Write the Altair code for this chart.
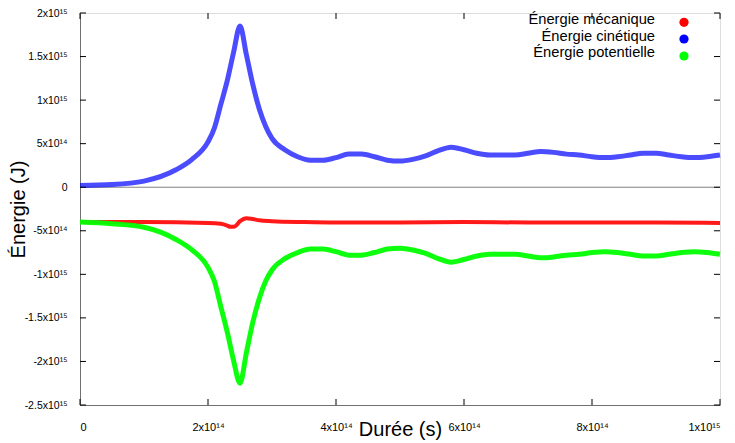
import json
import altair as alt
import pandas as pd

# ---- data (x in units of 1e14 s, energies in units of 1e-15 J) ----
x_main = [0, 0.5, 1.0, 1.5, 1.75, 2.0, 2.1, 2.2, 2.3, 2.4, 2.5, 2.6, 2.7, 2.8, 2.9, 3.0,
          3.2, 3.4, 3.6, 3.8, 4.0, 4.2, 4.4, 4.6, 4.8, 5.0, 5.2, 5.4, 5.6, 5.8, 6.0,
          6.2, 6.4, 6.6, 6.8, 7.0, 7.2, 7.4, 7.6, 7.8, 8.0, 8.2, 8.4, 8.6, 8.8, 9.0,
          9.2, 9.4, 9.6, 9.8, 10.0]
cinetique = [0.02, 0.03, 0.07, 0.20, 0.32, 0.52, 0.68, 0.95, 1.22, 1.55, 1.85, 1.52, 1.18, 0.90, 0.70, 0.56,
             0.43, 0.35, 0.31, 0.31, 0.34, 0.38, 0.38, 0.35, 0.31, 0.30, 0.32, 0.36, 0.42, 0.46, 0.43,
             0.39, 0.37, 0.37, 0.37, 0.39, 0.41, 0.40, 0.38, 0.37, 0.35, 0.34, 0.35, 0.37, 0.39, 0.39,
             0.37, 0.35, 0.34, 0.35, 0.37]
potentielle = [-0.40, -0.42, -0.46, -0.60, -0.72, -0.92, -1.08, -1.37, -1.66, -1.99, -2.25, -1.90, -1.55, -1.28, -1.08, -0.95,
               -0.82, -0.75, -0.71, -0.71, -0.74, -0.78, -0.78, -0.75, -0.71, -0.70, -0.72, -0.76, -0.82, -0.86, -0.83,
               -0.79, -0.77, -0.77, -0.77, -0.79, -0.81, -0.80, -0.78, -0.77, -0.75, -0.74, -0.75, -0.77, -0.79, -0.79,
               -0.77, -0.75, -0.74, -0.75, -0.77]
x_meca = [0, 1, 2, 2.2, 2.3, 2.35, 2.42, 2.5, 2.6, 2.7, 2.8, 3.0, 3.5, 4, 5, 6, 7, 8, 9, 10]
mecanique = [-0.40, -0.40, -0.41, -0.42, -0.44, -0.455, -0.45, -0.39, -0.355, -0.365, -0.38, -0.39,
             -0.40, -0.405, -0.405, -0.40, -0.405, -0.405, -0.405, -0.41]

series_names = ["Énergie mécanique", "Énergie cinétique", "Énergie potentielle"]
series_colors = ["#ff0000", "#0000ff", "#00ff00"]
series_opacity = [0.9, 0.7, 0.95]
series_width = [4, 5, 5]

x_ticks = [0, 2, 4, 6, 8, 10]
x_labels = ["0", "2x10¹⁴", "4x10¹⁴", "6x10¹⁴", "8x10¹⁴", "1x10¹⁵"]
y_ticks = [2, 1.5, 1, 0.5, 0, -0.5, -1, -1.5, -2, -2.5]
y_labels = ["2x10¹⁵", "1.5x10¹⁵", "1x10¹⁵", "5x10¹⁴", "0", "-5x10¹⁴",
            "-1x10¹⁵", "-1.5x10¹⁵", "-2x10¹⁵", "-2.5x10¹⁵"]

# ---- tables ----
series_x = [x_meca, x_main, x_main]
series_v = [mecanique, cinetique, potentielle]
xt_df = pd.DataFrame({"x": x_ticks})
yt_df = pd.DataFrame({"v": y_ticks})
zero_df = pd.DataFrame({"v": [0]})

W, H = 640, 392
FONT = "Liberation Sans"

def lbl_expr(labels, ticks):
    return (json.dumps(labels, ensure_ascii=False) + "[indexof(" +
            json.dumps(ticks) + ", datum.value)]")

xscale = alt.Scale(domain=[0, 10], nice=False, zero=False)
yscale = alt.Scale(domain=[-2.5, 2], nice=False, zero=False)

X_AXIS = alt.Axis(
    values=x_ticks, labelExpr=lbl_expr(x_labels, x_ticks), ticks=False, grid=False,
    domainColor="#707070", labelFontSize=11, labelPadding=16, labelColor="black",
    title="Durée (s)", titleFontSize=20, titleFontWeight="normal", titleColor="black",
    titleX=320, titleY=30, titleBaseline="alphabetic", titleAlign="center")
Y_AXIS = alt.Axis(
    values=y_ticks, labelExpr=lbl_expr(y_labels, y_ticks), ticks=False, grid=False,
    domainColor="#707070", labelFontSize=10.5, labelPadding=13, labelColor="black",
    title="Énergie (J)", titleFontSize=20, titleFontWeight="normal", titleColor="black",
    titleX=-62, titleY=196, titleAngle=270, titleAlign="center", titleBaseline="middle")

def X(f="x"):
    return alt.X(f"{f}:Q", scale=xscale, axis=X_AXIS)

def Y(f="v"):
    return alt.Y(f"{f}:Q", scale=yscale, axis=Y_AXIS)

layers = [alt.Chart(zero_df).mark_rule(color="#808080", strokeWidth=1).encode(y=Y())]

# data series (drawn as thick smooth lines)
for i, name in enumerate(series_names):
    d = pd.DataFrame({"x": series_x[i], "v": series_v[i], "serie": name})
    layers.append(
        alt.Chart(d).mark_line(interpolate="monotone", strokeWidth=series_width[i],
                               color=series_colors[i], opacity=series_opacity[i])
        .encode(x=X(), y=Y(), order=alt.Order("x:Q"))
    )

# legend: labels right-aligned, coloured dots to their right
leg_text_y = [11, 27.7, 44.3]
leg_dot_y = [9.3, 26, 43]
for i, name in enumerate(series_names):
    ld = pd.DataFrame({"label": [name]})
    layers.append(alt.Chart(ld).mark_text(align="right", baseline="alphabetic",
                                          fontSize=14.7, font=FONT, color="black")
                  .encode(text="label:N", x=alt.value(575), y=alt.value(leg_text_y[i])))
    layers.append(alt.Chart(ld).mark_circle(size=85, opacity=1, color=series_colors[i])
                  .encode(x=alt.value(604), y=alt.value(leg_dot_y[i])))

tick_color = "black"
layers += [
    alt.Chart(yt_df).mark_rule(color=tick_color).encode(y=Y(), x=alt.value(0), x2=alt.value(6)),
    alt.Chart(yt_df).mark_rule(color=tick_color).encode(y=Y(), x=alt.value(W - 6), x2=alt.value(W)),
    alt.Chart(xt_df).mark_rule(color=tick_color).encode(x=X(), y=alt.value(H), y2=alt.value(H - 6)),
    alt.Chart(xt_df).mark_rule(color=tick_color).encode(x=X(), y=alt.value(0), y2=alt.value(6)),
]

chart = alt.layer(*layers).properties(
    width=W, height=H,
    autosize=alt.AutoSizeParams(type="none"),
    padding={"left": 80, "top": 13, "right": 15, "bottom": 38},
).configure_view(stroke=None).configure(font=FONT, background="white")

chart.save("out.html", embed_options={"renderer": "svg", "actions": False})
